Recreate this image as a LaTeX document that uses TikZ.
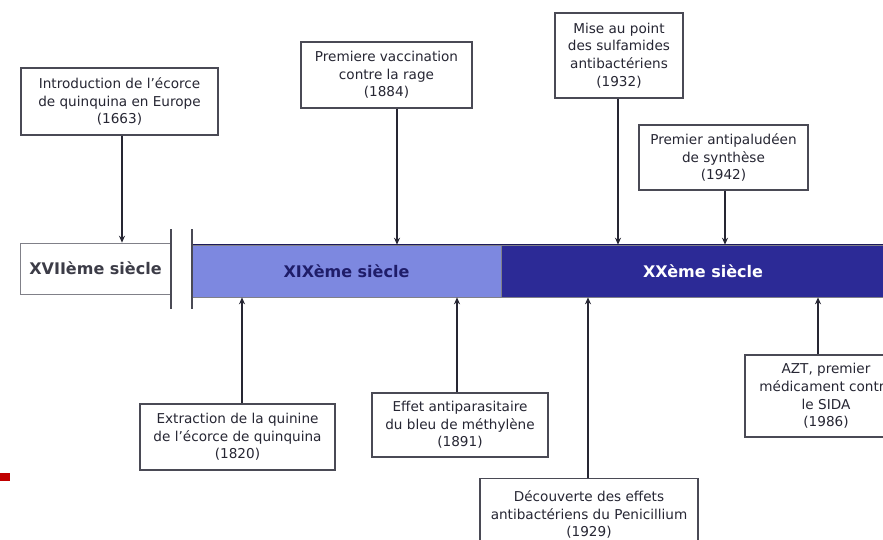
\documentclass[tikz,border=0pt]{standalone}
\usepackage{fontspec}
\setmainfont{DejaVu Sans}
\usetikzlibrary{arrows.meta}
\definecolor{ink}{HTML}{262633}
\definecolor{frame}{HTML}{4A4A55}
\definecolor{lightbar}{HTML}{7D88E0}
\definecolor{darkbar}{HTML}{2C2A96}
\definecolor{tabred}{HTML}{C00000}
\tikzset{
  event/.style={draw=frame, line width=1.3pt, fill=white, align=center,
    text=ink, inner sep=0pt, font=\fontsize{13.6}{17.6}\selectfont},
  era/.style={draw=frame!70, line width=0.6pt, inner sep=0pt,
    font=\fontsize{16}{18}\selectfont\bfseries},
  link/.style={draw=ink, line width=1.6pt, -{Stealth[length=7pt,width=6pt]}},
  sep/.style={draw=frame, line width=1.8pt}
}
\begin{document}
\begin{tikzpicture}[x=1pt,y=-1pt]
\useasboundingbox (0,0) rectangle (883,539);
\clip (0,0) rectangle (883,539);

% timeline bands
\node[era, minimum width=151pt, minimum height=51pt, fill=white, text=ink!90]
  (xvii) at (95.5,268.5) {XVIIème siècle};
\node[era, minimum width=309pt, minimum height=52pt, fill=lightbar, text=darkbar!70!black]
  (xix) at (346.5,271) {XIXème siècle};
\node[era, minimum width=404pt, minimum height=52pt, fill=darkbar, text=white]
  (xx) at (703,271) {XXème siècle};
\draw[darkbar!60!black, line width=1pt] (xix.north west) -- (xx.north east);

% break marks between the centuries
\coordinate (brA) at (171,229);
\coordinate (brB) at (192,229);
\draw[sep] (brA) -- ++(0,80);
\draw[sep] (brB) -- ++(0,80);

% events above the timeline
\node[event, minimum width=197pt, minimum height=67pt] (b1) at (119.5,101.5)
  {Introduction de l'écorce\\de quinquina en Europe\\(1663)};
\node[event, minimum width=171pt, minimum height=66pt] (b2) at (386.5,75)
  {Premiere vaccination\\contre la rage\\(1884)};
\node[event, minimum width=128pt, minimum height=85pt] (b3) at (619,55.5)
  {Mise au point\\des sulfamides\\antibactériens\\(1932)};
\node[event, minimum width=169pt, minimum height=65pt] (b4) at (723.5,157.5)
  {Premier antipaludéen\\de synthèse\\(1942)};

% events below the timeline
\node[event, minimum width=195pt, minimum height=66pt] (b5) at (237.5,437)
  {Extraction de la quinine\\de l'écorce de quinquina\\(1820)};
\node[event, minimum width=176pt, minimum height=64pt] (b6) at (460,425)
  {Effet antiparasitaire\\du bleu de méthylène\\(1891)};
\node[event, minimum width=218pt, minimum height=72pt, anchor=north] (b7) at (589,478)
  {Découverte des effets\\antibactériens du Penicillium\\(1929)};
\node[event, minimum width=162pt, minimum height=82pt] (b8) at (826,396)
  {AZT, premier\\médicament contre\\le SIDA\\(1986)};

% connectors
\draw[link] ([xshift=2.5pt]b1.south) -- ([xshift=2.5pt]b1.south |- xvii.north);
\draw[link] ([xshift=10.5pt]b2.south) -- ([xshift=10.5pt]b2.south |- xix.north);
\draw[link] ([xshift=-1pt]b3.south) -- ([xshift=-1pt]b3.south |- xx.north);
\draw[link] ([xshift=1.5pt]b4.south) -- ([xshift=1.5pt]b4.south |- xx.north);
\draw[link] ([xshift=4.5pt]b5.north) -- ([xshift=4.5pt]b5.north |- xix.south);
\draw[link] ([xshift=-3pt]b6.north) -- ([xshift=-3pt]b6.north |- xix.south);
\draw[link] ([xshift=-1pt]b7.north) -- ([xshift=-1pt]b7.north |- xx.south);
\draw[link] ([xshift=-8pt]b8.north) -- ([xshift=-8pt]b8.north |- xx.south);

% small red tab on the left edge
\fill[tabred] (0,473) rectangle (10,481);
\end{tikzpicture}
\end{document}
